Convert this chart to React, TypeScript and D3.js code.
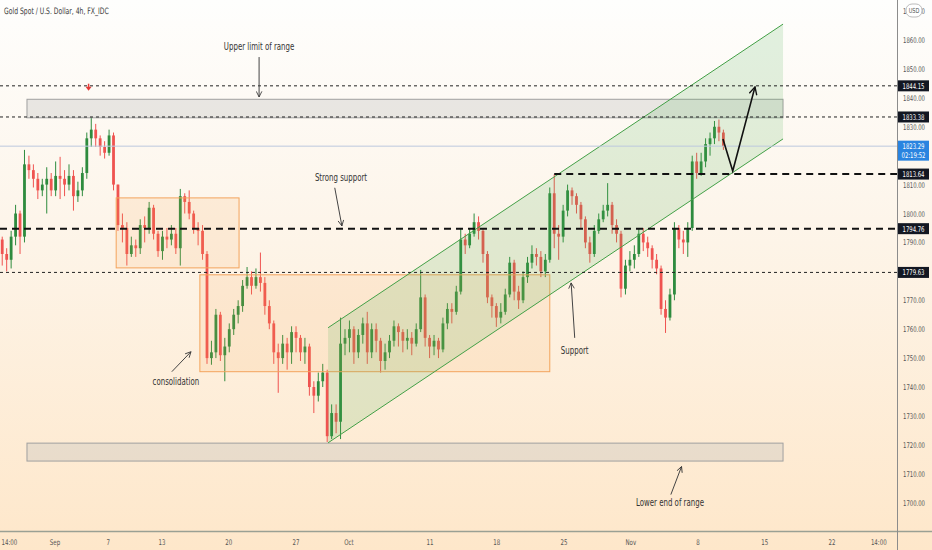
import * as d3 from "d3";
import React, { useEffect, useRef } from "react";

const W = 932;
const H = 550;
const PLOT_RIGHT = 897;
const PLOT_BOTTOM = 531;
const FONT = "'Liberation Sans Narrow', 'DejaVu Sans Condensed', 'Open Sans', sans-serif";

// 4h gold candles, thinned to three per session
const firstOpen = 1791;
const closes = [
  1786, 1784, 1792, 1800, 1792, 1817, 1815, 1812, 1808, 1810,
  1812, 1808, 1813, 1812, 1810, 1813, 1806, 1808, 1814, 1826,
  1829, 1826, 1823, 1821, 1827, 1810, 1796, 1795, 1786, 1789,
  1788, 1796, 1795, 1802, 1793, 1787, 1792, 1791, 1793, 1788,
  1806, 1804, 1800, 1795, 1794, 1786, 1750, 1752, 1765, 1751,
  1754, 1760, 1765, 1768, 1775, 1778, 1775, 1778, 1776, 1768,
  1762, 1752, 1750, 1755, 1752, 1759, 1757, 1752, 1754, 1740,
  1737, 1742, 1745, 1723, 1731, 1728, 1755, 1757, 1760, 1752,
  1758, 1762, 1752, 1760, 1756, 1749, 1752, 1756, 1761, 1759,
  1756, 1757, 1755, 1760, 1771, 1757, 1754, 1756, 1753, 1762,
  1767, 1766, 1773, 1791, 1789, 1793, 1797, 1794, 1786, 1771,
  1768, 1764, 1766, 1772, 1783, 1773, 1770, 1778, 1783, 1786,
  1785, 1780, 1784, 1807, 1793, 1792, 1801, 1808, 1806, 1803,
  1798, 1790, 1786, 1794, 1798, 1801, 1803, 1796, 1793, 1774,
  1782, 1784, 1786, 1793, 1790, 1788, 1784, 1781, 1767, 1764,
  1772, 1795, 1791, 1790, 1795, 1818, 1814, 1818, 1824, 1826,
  1830, 1828, 1823.29,
];
const highs = [
  1792, 1788, 1794, 1803, 1801, 1822, 1820, 1817, 1814, 1812,
  1816, 1814, 1818, 1819.6, 1815, 1817, 1815, 1811, 1816, 1828,
  1833.4, 1831, 1827, 1825, 1829, 1828, 1810, 1800, 1797, 1792,
  1791, 1798, 1799, 1804, 1803, 1794, 1794, 1795, 1796, 1795,
  1808.5, 1807, 1808, 1801, 1797, 1796, 1787, 1756, 1767, 1766,
  1757, 1762, 1767, 1770, 1777, 1781.5, 1780, 1781, 1786.5, 1778,
  1770, 1763, 1755, 1758, 1757, 1761, 1761, 1758, 1757, 1755,
  1742, 1745, 1748, 1746, 1734, 1734, 1764, 1760, 1763, 1761,
  1760, 1764, 1766, 1762, 1762, 1757, 1755, 1758, 1763, 1762,
  1760, 1760, 1759, 1762, 1780.5, 1772, 1758, 1758, 1757, 1764,
  1769, 1769, 1775, 1795, 1793, 1795, 1800, 1799, 1795, 1787,
  1772, 1769, 1769, 1774, 1785, 1784, 1775, 1780, 1785, 1789,
  1788, 1787, 1786, 1809, 1813.5, 1796, 1803, 1810, 1809, 1807,
  1804, 1799, 1792, 1796, 1800, 1803, 1810.5, 1804, 1798, 1794,
  1784, 1787, 1789, 1795, 1795, 1792, 1789, 1786, 1782, 1770,
  1774, 1797, 1796, 1794, 1797, 1820, 1821, 1821, 1826, 1828,
  1832, 1832.5, 1829,
];
const lows = [
  1782, 1780, 1781, 1789, 1786, 1790, 1812, 1809, 1805, 1806,
  1800, 1806, 1806, 1805, 1806, 1808, 1801, 1804, 1806, 1812,
  1823, 1823, 1820, 1819, 1820, 1808, 1794, 1790, 1782, 1785,
  1785, 1786, 1790, 1793, 1791, 1785, 1784, 1788, 1789, 1786,
  1782, 1800, 1798, 1793, 1789, 1784, 1748, 1747.7, 1750, 1749,
  1742, 1752, 1758, 1762, 1766, 1774, 1772, 1774, 1773, 1765,
  1760, 1748, 1738, 1748, 1746, 1748, 1752, 1749, 1748, 1737,
  1731, 1735, 1740, 1721, 1722, 1724, 1722, 1751, 1752, 1748,
  1750, 1755, 1748, 1750, 1752, 1745, 1746, 1750, 1754, 1754,
  1752, 1753, 1751, 1754, 1759, 1754, 1750, 1751, 1750, 1752,
  1760, 1762, 1765, 1772, 1786, 1788, 1792, 1791, 1783, 1769,
  1764, 1760.8, 1762, 1765, 1771, 1770, 1767, 1769, 1776, 1781,
  1782, 1778, 1778, 1783, 1788, 1784, 1790, 1799, 1803, 1800,
  1795, 1788, 1783, 1785, 1793, 1797, 1799, 1793, 1790, 1771,
  1772, 1780, 1781, 1785, 1787, 1785, 1781, 1779, 1765, 1758.7,
  1763, 1770, 1788, 1786, 1785, 1794, 1812, 1813, 1816, 1820,
  1824, 1825, 1822,
];

const priceTicks = [1700, 1710, 1720, 1730, 1740, 1750, 1760, 1770, 1780, 1790, 1800, 1810, 1820, 1830, 1840, 1850, 1860, 1870];

// time axis labels, positioned in bar units
const timeLabels = ["14:00", "Sep", "7", "13", "20", "27", "Oct", "11", "18", "25", "Nov", "8", "15", "22", "14:00"];
const timeBars = [1.6, 11.85, 23.8, 35.9, 50.9, 66, 77.9, 96.1, 111.1, 126.2, 141.2, 156.3, 171.3, 186.4, 196.9];

const thinLevels = [1844.15, 1833.38, 1779.63];
const thickLevels = [1794.76, 1813.64];
const thickLevelStart = [-0.5, 124];
const lastPrice = 1823.29;
const countdown = "02:19:52";

// drawn zones: [barFrom, barTo, priceTop, priceBottom]
const greyZones = [
  [5.56, 175.4, 1839.5, 1833.1],
  [5.56, 175.4, 1720.6, 1714.4],
];
const orangeZones = [
  [25.6, 53.2, 1805.4, 1781.2],
  [44.4, 123, 1778.8, 1745.3],
];
const channelBars = [73.2, 175.4];
const channelUpper = [1760.5, 1865.5];
const channelLower = [1720.7, 1825.8];

// projected path
const pathBars = [161.9, 164.1, 169.1];
const pathPrices = [1825.8, 1814.7, 1843.8];

const notes = ["Upper limit of range", "Strong support", "consolidation", "Support", "Lower end of range"];
const noteBars = [57.7, 76.1, 39, 128.6, 150];
const notePrices = [1857.6, 1812.3, 1741.8, 1752.5, 1700];
const arrowFrom = [[57.7, 1854.1], [74.7, 1808.9], [38.1, 1745.3], [128.6, 1757], [150.2, 1702.8]];
const arrowTo = [[57.7, 1840.3], [76.3, 1795.7], [42.4, 1752.2], [127.8, 1776], [152.6, 1712.5]];

// condensed text: the chart's font is narrow, so squeeze horizontally
function label(
  g: d3.Selection<any, unknown, null, undefined>,
  cx: number, cy: number, txt: string, size: number, fill: string,
  anchor = "start", squeeze = 0.8
) {
  return g.append("text")
    .attr("transform", `translate(${cx},${cy}) scale(${squeeze},1)`)
    .attr("text-anchor", anchor)
    .attr("font-family", FONT)
    .attr("font-size", size)
    .attr("fill", fill)
    .text(txt);
}

const App: React.FC = () => {
  const svgRef = useRef<SVGSVGElement>(null);

  useEffect(() => {
    const svg = d3.select(svgRef.current);
    svg.selectAll("*").remove();

    const x = d3.scaleLinear().domain([-0.5, 201]).range([0, PLOT_RIGHT]);
    const y = d3.scaleLinear().domain([1700, 1860]).range([502.7, 40]);

    const defs = svg.append("defs");
    const grad = defs.append("linearGradient").attr("id", "bg").attr("x1", 0).attr("y1", 0).attr("x2", 0).attr("y2", 1);
    grad.append("stop").attr("offset", "0%").attr("stop-color", "#fefefd");
    grad.append("stop").attr("offset", "40%").attr("stop-color", "#fdf5ea");
    grad.append("stop").attr("offset", "100%").attr("stop-color", "#fee7ca");
    defs.append("clipPath").attr("id", "plot").append("rect").attr("width", PLOT_RIGHT).attr("height", PLOT_BOTTOM);
    defs.append("marker").attr("id", "head").attr("viewBox", "0 0 10 10").attr("refX", 9).attr("refY", 5)
      .attr("markerWidth", 7).attr("markerHeight", 7).attr("orient", "auto-start-reverse")
      .append("path").attr("d", "M1,1 L9,5 L1,9").attr("fill", "none").attr("stroke", "#333").attr("stroke-width", 1.2);
    defs.append("marker").attr("id", "bigHead").attr("viewBox", "0 0 10 10").attr("refX", 9).attr("refY", 5)
      .attr("markerWidth", 6).attr("markerHeight", 6).attr("orient", "auto")
      .append("path").attr("d", "M1,1 L9,5 L1,9").attr("fill", "none").attr("stroke", "#111").attr("stroke-width", 1.4);

    svg.append("rect").attr("width", W).attr("height", H).attr("fill", "url(#bg)");

    const plot = svg.append("g").attr("clip-path", "url(#plot)");

    // candles
    const candles = closes.map((c, i) => {
      const o = i === 0 ? firstOpen : closes[i - 1];
      return { i, o, c, h: Math.max(highs[i], o, c), l: Math.min(lows[i], o, c) };
    });
    const up = "#2e8b3e";
    const down = "#ef5350";
    const cg = plot.append("g");
    cg.selectAll("line").data(candles).enter().append("line")
      .attr("x1", d => x(d.i)).attr("x2", d => x(d.i))
      .attr("y1", d => y(d.h)).attr("y2", d => y(d.l))
      .attr("stroke", d => (d.c >= d.o ? up : down)).attr("stroke-width", 1);
    cg.selectAll("rect").data(candles).enter().append("rect")
      .attr("x", d => x(d.i) - 1.4).attr("width", 2.8)
      .attr("y", d => y(Math.max(d.o, d.c)))
      .attr("height", d => Math.max(1, Math.abs(y(d.o) - y(d.c))))
      .attr("fill", d => (d.c >= d.o ? up : down));

    // zones
    greyZones.forEach(z => {
      plot.append("rect").attr("x", x(z[0])).attr("width", x(z[1]) - x(z[0]))
        .attr("y", y(z[2])).attr("height", y(z[3]) - y(z[2]))
        .attr("fill", "rgba(185,185,185,0.3)").attr("stroke", "#a0a0a0").attr("stroke-width", 1);
    });
    orangeZones.forEach(z => {
      plot.append("rect").attr("x", x(z[0])).attr("width", x(z[1]) - x(z[0]))
        .attr("y", y(z[2])).attr("height", y(z[3]) - y(z[2]))
        .attr("fill", "rgba(245,165,80,0.13)").attr("stroke", "#f3a45c").attr("stroke-width", 1);
    });
    const channel: [number, number][] = [
      [x(channelBars[0]), y(channelUpper[0])],
      [x(channelBars[1]), y(channelUpper[1])],
      [x(channelBars[1]), y(channelLower[1])],
      [x(channelBars[0]), y(channelLower[0])],
    ];
    plot.append("path").attr("d", "M" + channel.map(p => p.join(",")).join("L") + "Z")
      .attr("fill", "rgba(76,175,80,0.16)").attr("stroke", "none");
    plot.append("line").attr("x1", channel[0][0]).attr("y1", channel[0][1]).attr("x2", channel[1][0]).attr("y2", channel[1][1])
      .attr("stroke", "#43a047").attr("stroke-width", 1);
    plot.append("line").attr("x1", channel[3][0]).attr("y1", channel[3][1]).attr("x2", channel[2][0]).attr("y2", channel[2][1])
      .attr("stroke", "#43a047").attr("stroke-width", 1);

    // levels
    plot.append("line").attr("x1", 0).attr("x2", PLOT_RIGHT).attr("y1", y(lastPrice)).attr("y2", y(lastPrice))
      .attr("stroke", "#bcc8de").attr("stroke-width", 1);
    thinLevels.forEach(p => {
      plot.append("line").attr("x1", 0).attr("x2", PLOT_RIGHT).attr("y1", y(p)).attr("y2", y(p))
        .attr("stroke", "#222").attr("stroke-width", 1).attr("stroke-dasharray", "3,3");
    });
    thickLevels.forEach((p, k) => {
      plot.append("line").attr("x1", x(thickLevelStart[k])).attr("x2", PLOT_RIGHT).attr("y1", y(p)).attr("y2", y(p))
        .attr("stroke", "#111").attr("stroke-width", 2).attr("stroke-dasharray", "7,5");
    });

    // projected move
    const pathLine = d3.line<number>().x((_, k) => x(pathBars[k])).y(d => y(d));
    plot.append("path").attr("d", pathLine(pathPrices) as string).attr("fill", "none")
      .attr("stroke", "#111").attr("stroke-width", 1.6).attr("marker-end", "url(#bigHead)");

    // red marker above the top
    const rx = x(19.4);
    const ry = y(1843.5);
    plot.append("line").attr("x1", rx).attr("x2", rx).attr("y1", ry - 4).attr("y2", ry).attr("stroke", "#e53935").attr("stroke-width", 1.5);
    plot.append("path").attr("d", `M${rx - 3},${ry - 1} L${rx + 3},${ry - 1} L${rx},${ry + 3} Z`).attr("fill", "#e53935");

    // notes
    notes.forEach((t, k) => {
      label(plot, x(noteBars[k]), y(notePrices[k]) + 3.5, t, 10, "#333", "middle", 0.78);
      plot.append("line")
        .attr("x1", x(arrowFrom[k][0])).attr("y1", y(arrowFrom[k][1]))
        .attr("x2", x(arrowTo[k][0])).attr("y2", y(arrowTo[k][1]))
        .attr("stroke", "#444").attr("stroke-width", 1).attr("marker-end", "url(#head)");
    });

    // title
    label(svg, 4, 14, "Gold Spot / U.S. Dollar, 4h, FX_IDC", 8.8, "#3a3a3a", "start", 0.77);

    // axes frame
    svg.append("line").attr("x1", 0).attr("x2", W).attr("y1", PLOT_BOTTOM + 0.5).attr("y2", PLOT_BOTTOM + 0.5)
      .attr("stroke", "#9aa094").attr("stroke-width", 1.5);
    svg.append("line").attr("x1", PLOT_RIGHT + 0.5).attr("x2", PLOT_RIGHT + 0.5).attr("y1", 0).attr("y2", H)
      .attr("stroke", "#8c8c8c").attr("stroke-width", 1);

    // price axis
    const pa = svg.append("g");
    priceTicks.forEach(p => {
      label(pa, 903, y(p) + 3, p.toFixed(2), 7.8, "#555", "start", 0.76);
    });
    svg.append("rect").attr("x", 906).attr("y", 4).attr("width", 16).attr("height", 13).attr("rx", 6)
      .attr("fill", "#fff").attr("stroke", "#bbb");
    label(svg, 914, 13, "USD", 7, "#555", "middle", 0.8);

    [...thinLevels, ...thickLevels].forEach(p => {
      svg.append("rect").attr("x", 898).attr("y", y(p) - 5.5).attr("width", 31).attr("height", 11).attr("fill", "#131722");
      label(svg, 913.5, y(p) + 3, p.toFixed(2), 7.8, "#fff", "middle", 0.76);
    });
    svg.append("rect").attr("x", 898).attr("y", y(lastPrice) - 5.5).attr("width", 31).attr("height", 20).attr("fill", "#2a84e0");
    label(svg, 913.5, y(lastPrice) + 3, lastPrice.toFixed(2), 7.8, "#fff", "middle", 0.76);
    label(svg, 913.5, y(lastPrice) + 12, countdown, 7.8, "#fff", "middle", 0.76);

    // time axis
    const ta = svg.append("g");
    timeLabels.forEach((t, k) => {
      label(ta, x(timeBars[k]), 545, t, 7.8, "#555", "middle", 0.78);
    });
  }, []);

  return <svg ref={svgRef} width={W} height={H} style={{ position: "absolute", left: 0, top: 0 }} />;
};

export default App;
